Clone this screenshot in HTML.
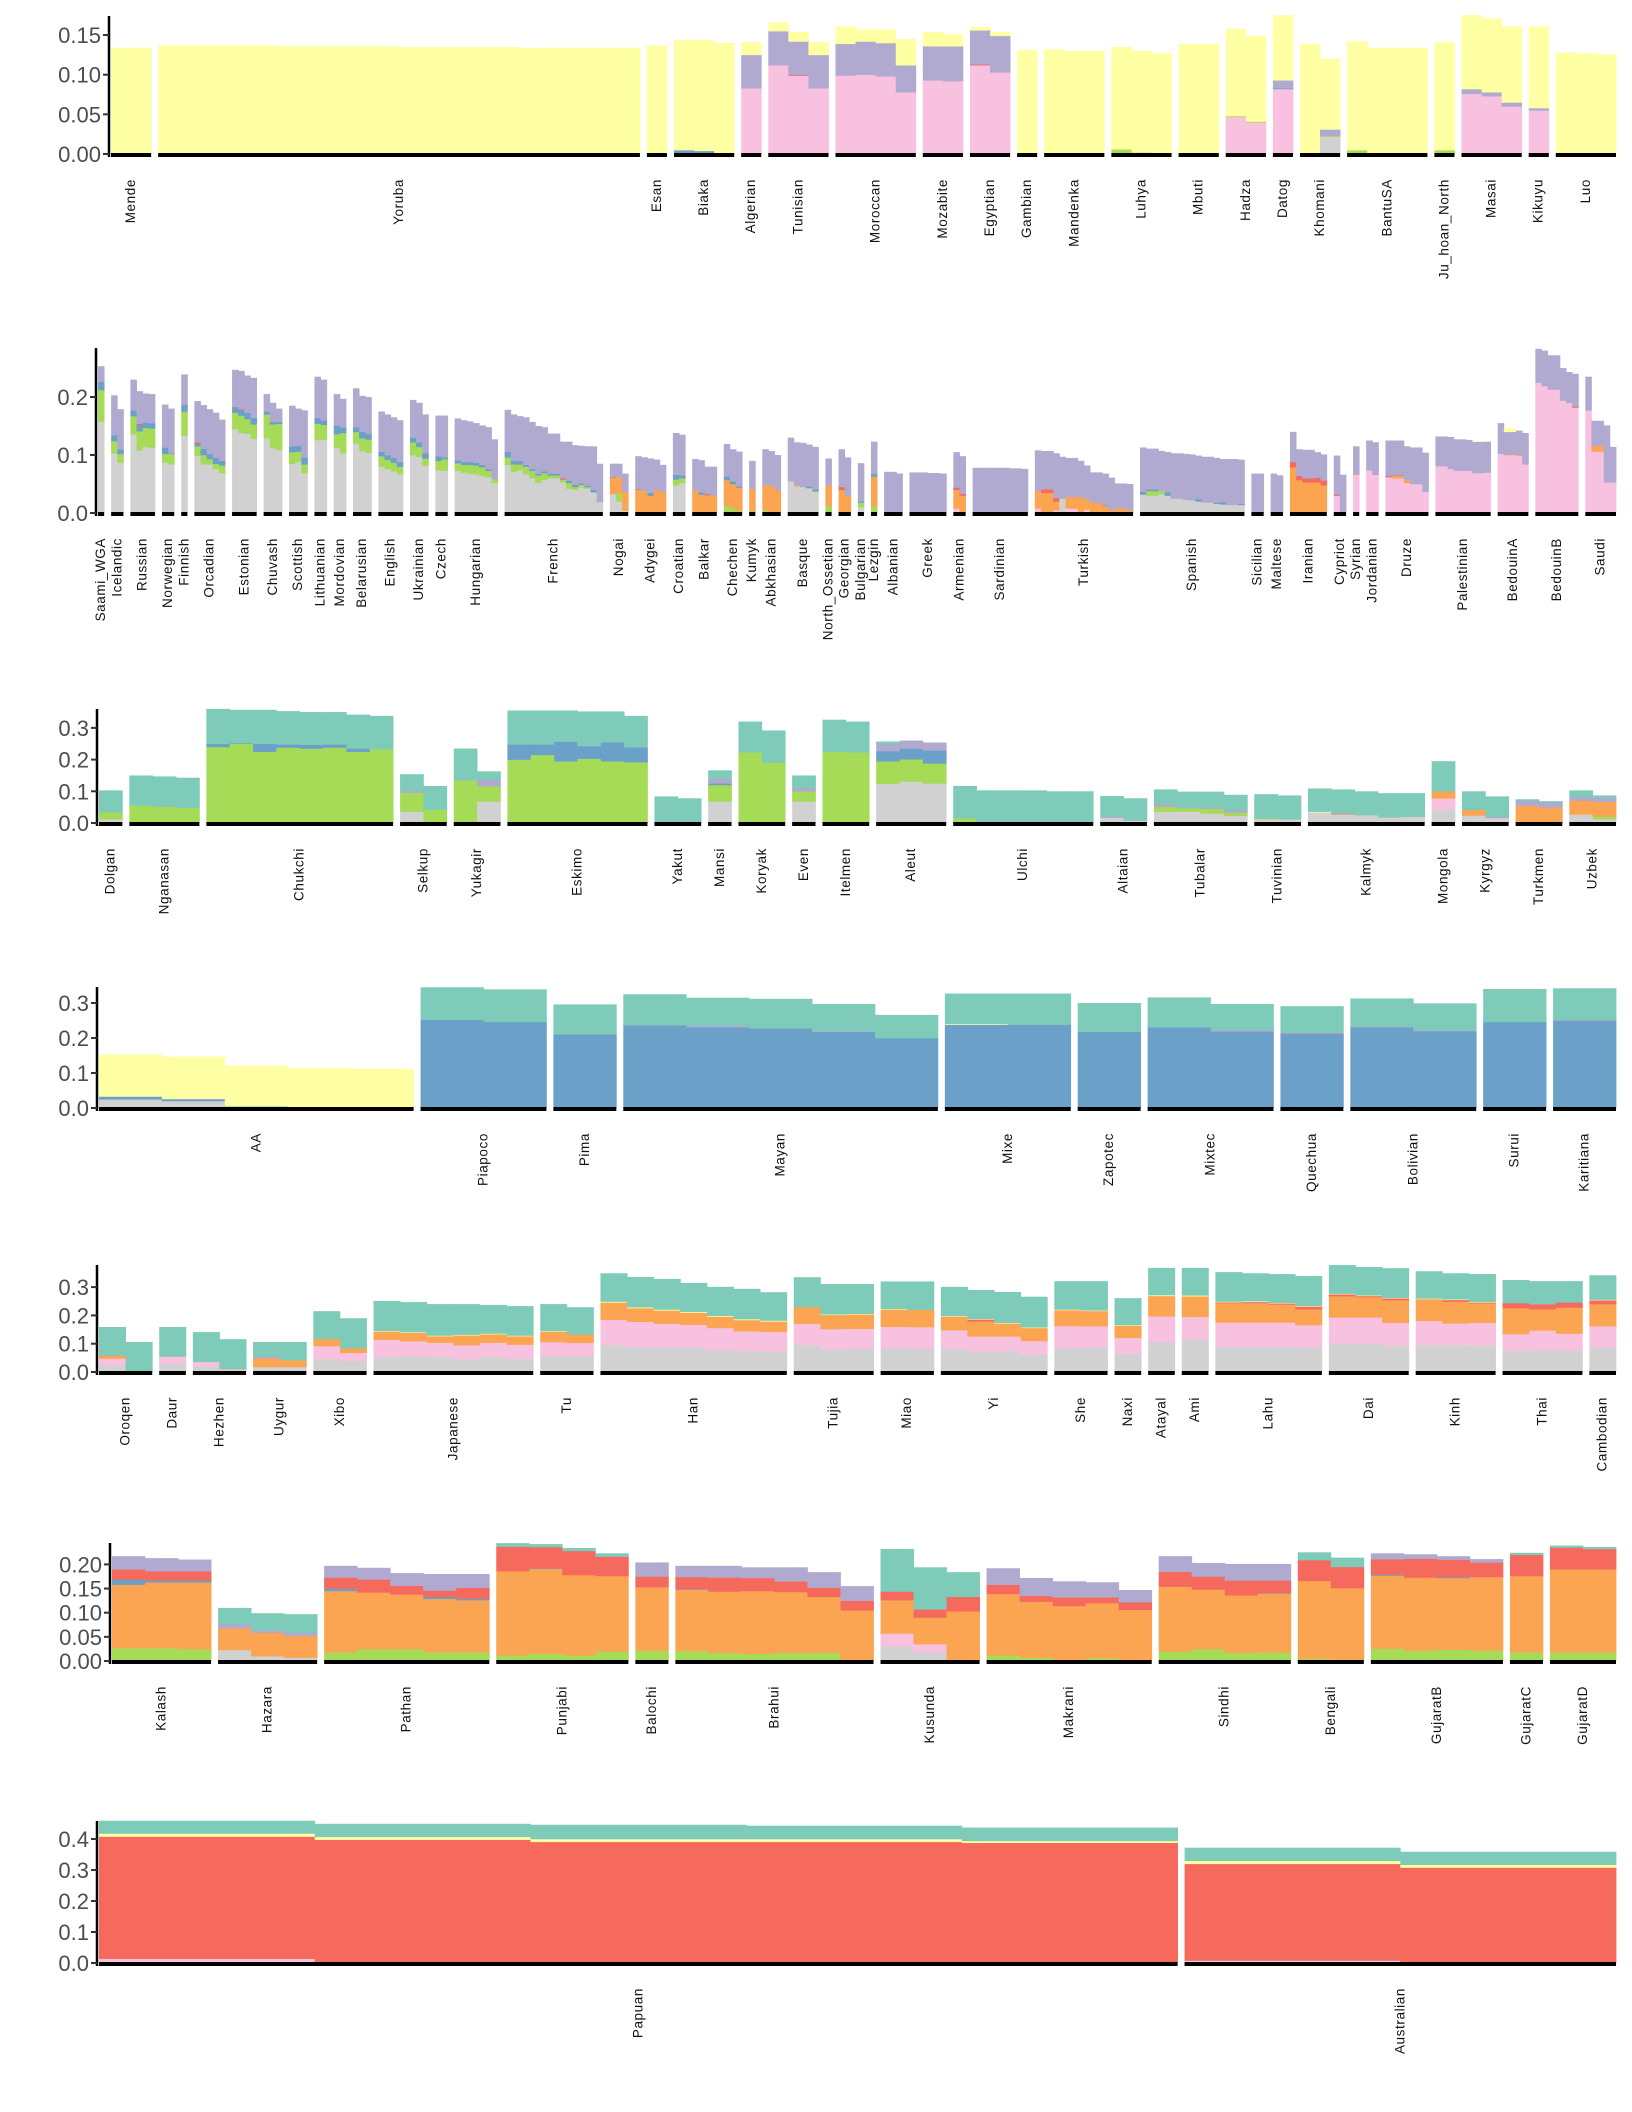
<!DOCTYPE html>
<html><head><meta charset="utf-8"><style>
html,body{margin:0;padding:0;background:#fff;}
svg{display:block;font-family:"Liberation Sans",sans-serif;}
</style></head><body>
<svg id="chart" width="1632" height="2112" viewBox="0 0 1632 2112" xmlns="http://www.w3.org/2000/svg"></svg>
<script>
// ---------------- DATA ----------------
const p1Names=["Mende","Yoruba","Esan","Biaka","Algerian","Tunisian","Moroccan","Mozabite","Egyptian","Gambian","Mandenka","Luhya","Mbuti","Hadza","Datog","Khomani","BantuSA","Ju_hoan_North","Masai","Kikuyu","Luo"];
const p1Counts=[2,24,1,3,1,3,4,2,2,1,3,3,2,2,1,2,4,1,3,1,3];
const p1Bars=[
[{y:.134}],
[{y:.137},{y:.136},{y:.135},{y:.134}],
[{y:.137}],
[{b:.005,y:.139},{b:.004,y:.140},{y:.140}],
[{k:.083,u:.042,y:.016}],
[{k:.112,u:.043,y:.011},{k:.099,r:.001,u:.042,y:.012},{k:.083,u:.042,y:.016}],
[{k:.099,u:.040,y:.022},{k:.100,u:.042,y:.015},{k:.098,u:.042,y:.017},{k:.078,u:.034,y:.033}],
[{k:.093,u:.043,y:.018},{k:.092,u:.044,y:.015}],
[{k:.112,r:.001,u:.043,y:.004},{k:.103,u:.046,y:.005}],
[{y:.131}],
[{y:.132},{y:.130},{y:.130}],
[{n:.006,y:.129},{n:.002,y:.128},{y:.127}],
[{y:.139},{y:.139}],
[{k:.047,n:.001,y:.110},{k:.040,n:.001,y:.108}],
[{k:.082,b:.001,u:.010,y:.082}],
[{y:.139},{g:.022,n:.001,u:.008,y:.089}],
[{n:.005,y:.137},{y:.134},{y:.134},{y:.134}],
[{n:.005,y:.136}],
[{k:.076,u:.006,y:.093},{k:.073,u:.005,y:.093},{k:.060,u:.005,y:.096}],
[{k:.055,u:.003,y:.103}],
[{y:.128},{y:.127},{y:.126}]
];
const p1Ticks=[0,0.05,0.10,0.15];

const p2Names=["Saami_WGA","Icelandic","Russian","Norwegian","Finnish","Orcadian","Estonian","Chuvash","Scottish","Lithuanian","Mordovian","Belarusian","English","Ukrainian","Czech","Hungarian","French","Nogai","Adygei","Croatian","Balkar","Chechen","Kumyk","Abkhasian","Basque","North_Ossetian","Georgian","Bulgarian","Lezgin","Albanian","Greek","Armenian","Sardinian","Turkish","Spanish","Sicilian","Maltese","Iranian","Cypriot","Syrian","Jordanian","Druze","Palestinian","BedouinA","BedouinB","Saudi"];
const p2Counts=[1,2,4,2,1,5,4,3,3,2,2,3,4,3,2,7,16,3,5,2,4,3,1,3,5,1,2,1,1,3,6,2,9,16,17,2,2,6,2,1,2,7,9,5,7,5];
const p2Bars=[
[{g:.158,n:.054,b:.014,u:.027}],
[{g:.103,n:.021,b:.010,u:.069},{g:.087,n:.015,b:.008,u:.069}],
[{g:.136,n:.031,b:.010,u:.053},{g:.108,n:.033,b:.011,r:.002,u:.056},{g:.114,n:.033,b:.009,u:.050},{g:.113,n:.033,b:.009,u:.050}],
[{g:.087,n:.015,b:.011,u:.074},{g:.084,n:.018,b:.001,u:.077}],
[{g:.134,n:.041,b:.012,u:.052}],
[{g:.099,n:.016,b:.005,r:.002,u:.071},{g:.084,n:.016,b:.011,u:.075},{g:.084,n:.009,b:.009,u:.077},{g:.076,n:.009,b:.010,u:.078},{g:.069,n:.013,b:.008,u:.071}],
[{g:.145,n:.028,b:.010,u:.064},{g:.138,n:.030,b:.010,r:.001,u:.066},{g:.137,n:.025,b:.011,u:.064},{g:.128,n:.025,b:.011,u:.069}],
[{g:.129,n:.041,b:.005,u:.030},{g:.112,n:.041,b:.004,u:.033},{g:.109,n:.045,b:.003,u:.023}],
[{g:.085,n:.020,b:.010,u:.070},{g:.088,n:.018,b:.010,u:.064},{g:.069,n:.015,b:.012,u:.081}],
[{g:.126,n:.028,b:.010,u:.071},{g:.126,n:.026,b:.008,u:.070}],
[{g:.113,n:.023,b:.015,u:.054},{g:.103,n:.035,b:.010,u:.049}],
[{g:.120,n:.020,b:.008,u:.067},{g:.107,n:.022,b:.011,u:.062},{g:.104,n:.023,b:.010,u:.063}],
[{g:.080,n:.018,b:.008,u:.069},{g:.076,n:.016,b:.008,u:.070},{g:.072,n:.015,b:.008,u:.070},{g:.067,n:.013,b:.008,u:.072}],
[{g:.100,n:.022,b:.008,u:.065},{g:.097,n:.017,b:.008,u:.068},{g:.082,n:.012,b:.009,u:.067}],
[{g:.074,n:.016,b:.008,u:.070},{g:.073,n:.020,b:.003,u:.072}],
[{g:.073,n:.013,b:.005,u:.072},{g:.070,n:.013,b:.005,u:.072},{g:.068,n:.015,b:.005,u:.070},{g:.067,n:.015,b:.005,u:.068},{g:.064,n:.015,b:.004,u:.068},{g:.062,n:.010,b:.003,o:.001,u:.072},{g:.052,n:.007,u:.068}],
[{g:.083,n:.013,b:.010,u:.072},{g:.071,n:.013,b:.006,u:.080},{g:.074,n:.010,b:.006,u:.077},{g:.067,n:.013,b:.003,u:.082},{g:.060,n:.013,b:.003,u:.081},{g:.052,n:.013,b:.003,u:.082},{g:.057,n:.012,b:.003,u:.076},{g:.060,n:.005,b:.003,u:.069},{g:.053,n:.005,r:.002,u:.063},{g:.042,n:.010,b:.004,u:.067},{g:.040,n:.005,b:.004,u:.068},{g:.044,n:.005,b:.002,u:.065},{g:.042,n:.003,b:.002,u:.068},{g:.036,b:.004,u:.075},{g:.019,u:.066}],
[{g:.033,o:.028,r:.001,u:.023},{g:.020,n:.014,o:.028,u:.023},{g:.004,o:.033,u:.031}],
[{o:.040,r:.001,u:.057},{o:.038,u:.058},{o:.030,b:.005,u:.059},{o:.040,u:.052},{o:.037,u:.046}],
[{g:.048,n:.010,b:.008,u:.072},{g:.052,n:.008,b:.005,u:.070}],
[{o:.040,u:.053},{o:.032,b:.004,u:.055},{o:.031,r:.002,u:.047},{o:.030,u:.050}],
[{n:.012,o:.045,b:.006,u:.056},{n:.008,o:.042,b:.005,u:.055},{n:.004,o:.040,b:.002,u:.060}],
[{n:.004,o:.038,u:.048}],
[{n:.005,o:.043,u:.062},{o:.048,u:.059},{o:.040,u:.060}],
[{g:.055,u:.075},{g:.046,o:.002,u:.074},{g:.045,u:.076},{g:.043,b:.003,u:.072},{g:.036,n:.002,b:.003,u:.073}],
[{n:.012,o:.036,u:.046}],
[{o:.040,r:.005,u:.065},{o:.030,u:.066}],
[{g:.010,n:.008,b:.002,u:.066}],
[{n:.011,o:.052,b:.005,u:.055}],
[{u:.071},{u:.068}],
[{u:.070},{u:.070},{u:.069},{u:.068}],
[{k:.008,o:.032,r:.004,u:.061},{o:.030,r:.003,u:.065}],
[{u:.078},{u:.078},{u:.078},{u:.078},{u:.077},{u:.076}],
[{k:.008,o:.030,u:.070},{o:.035,r:.006,u:.066},{k:.005,o:.015,r:.006,u:.077},{g:.025,u:.072},{k:.008,o:.020,u:.067},{o:.028,u:.062},{k:.006,o:.018,u:.058},{o:.018,u:.052},{o:.012,b:.001,u:.055},{o:.005,u:.056},{o:.008,u:.043},{o:.005,u:.045}],
[{g:.032,b:.005,u:.076},{g:.030,n:.008,b:.003,u:.070},{g:.033,n:.006,u:.068},{g:.030,b:.006,u:.069},{g:.025,u:.078},{g:.023,u:.079},{g:.022,u:.079},{g:.020,b:.004,u:.075},{g:.018,u:.079},{g:.016,b:.002,u:.077},{g:.015,b:.004,u:.074},{g:.014,u:.079},{g:.014,b:.002,u:.076}],
[{u:.068},{u:.068}],
[{u:.068},{u:.065}],
[{o:.079,r:.009,u:.052},{o:.057,r:.007,u:.046},{o:.053,r:.007,u:.049},{o:.053,r:.008,u:.044},{o:.048,r:.008,u:.045}],
[{k:.030,r:.002,u:.067},{u:.066}],
[{k:.066,o:.001,u:.048}],
[{k:.074,u:.051},{k:.066,u:.056}],
[{k:.062,r:.002,u:.061},{k:.060,o:.005,b:.001,u:.059},{k:.052,o:.005,u:.058},{k:.050,u:.063},{k:.037,u:.067}],
[{k:.081,u:.051},{k:.076,u:.055},{k:.073,u:.054},{k:.073,u:.053},{k:.069,u:.054,y:.001},{k:.070,u:.053}],
[{k:.102,u:.053},{k:.100,o:.001,u:.039,y:.006},{k:.099,o:.001,u:.042},{k:.084,u:.054}],
[{k:.225,u:.058},{k:.219,u:.061},{k:.213,u:.059},{k:.194,u:.056},{k:.190,u:.053},{k:.182,r:.002,u:.056}],
[{k:.177,u:.058},{k:.106,o:.010,u:.043},{k:.053,u:.098},{k:.053,u:.061}]
];
const p2Ticks=[0,0.1,0.2];

const p3Names=["Dolgan","Nganasan","Chukchi","Selkup","Yukagir","Eskimo","Yakut","Mansi","Koryak","Even","Itelmen","Aleut","Ulchi","Altaian","Tubalar","Tuvinian","Kalmyk","Mongola","Kyrgyz","Turkmen","Uzbek"];
const p3Counts=[1,3,8,2,2,6,2,1,2,1,2,3,6,2,4,2,5,1,2,2,2];
const p3Bars=[
[{g:.012,n:.022,t:.069}],
[{n:.055,t:.095},{n:.052,t:.095},{n:.048,t:.095}],
[{n:.240,b:.010,t:.110},{n:.250,b:.002,t:.105},{n:.225,b:.025,t:.107},{n:.238,b:.010,t:.105},{n:.235,b:.012,t:.103},{n:.238,b:.010,t:.102},{n:.225,b:.010,t:.107},{n:.233,t:.105}],
[{g:.036,n:.060,u:.006,t:.052},{n:.042,t:.075}],
[{n:.135,t:.100},{g:.068,n:.048,u:.020,t:.027}],
[{n:.200,b:.048,t:.107},{n:.215,b:.033,t:.107},{n:.195,b:.062,t:.098},{n:.203,b:.040,t:.109},{n:.195,b:.060,t:.097},{n:.192,b:.047,t:.099}],
[{t:.084},{t:.078}],
[{g:.068,n:.052,b:.005,u:.014,t:.027}],
[{n:.223,t:.097},{n:.191,t:.101}],
[{g:.068,n:.032,u:.011,t:.039}],
[{n:.225,t:.101},{n:.223,t:.097}],
[{g:.124,n:.071,b:.032,u:.023,t:.007},{g:.131,n:.070,b:.034,u:.025},{g:.125,n:.063,b:.041,u:.025}],
[{n:.015,t:.102},{t:.103},{t:.103},{t:.103},{t:.100},{t:.100}],
[{g:.017,u:.004,t:.064},{g:.008,t:.070}],
[{g:.036,n:.016,u:.008,t:.046},{g:.036,n:.011,u:.003,t:.049},{g:.030,n:.015,u:.005,t:.049},{g:.023,n:.010,u:.008,t:.048}],
[{g:.012,n:.003,t:.076},{g:.012,t:.075}],
[{g:.034,y:.002,t:.073},{g:.028,r:.002,t:.076},{g:.025,t:.075},{g:.018,t:.076},{g:.020,t:.074}],
[{g:.043,k:.035,o:.022,t:.095}],
[{g:.024,o:.018,t:.058},{g:.016,u:.004,t:.064}],
[{o:.055,u:.016,t:.004},{o:.049,u:.016,t:.004}],
[{g:.027,o:.044,u:.011,t:.021},{g:.012,n:.008,o:.047,u:.012,t:.008}]
];
const p3Ticks=[0,0.1,0.2,0.3];

const p4Names=["AA","Piapoco","Pima","Mayan","Mixe","Zapotec","Mixtec","Quechua","Bolivian","Surui","Karitiana"];
const p4Counts=[5,2,1,5,2,1,2,1,2,1,1];
const p4Bars=[
[{g:.025,b:.008,y:.120},{g:.020,b:.006,y:.121},{b:.005,y:.116},{y:.115},{b:.003,y:.109}],
[{b:.252,t:.093},{b:.246,t:.093}],
[{b:.211,t:.085}],
[{b:.237,t:.088},{b:.231,u:.005,t:.079},{b:.228,t:.084},{b:.218,u:.002,t:.077},{b:.200,t:.066}],
[{b:.238,y:.002,t:.087},{b:.238,u:.001,t:.088}],
[{b:.218,t:.082}],
[{b:.231,t:.085},{b:.219,u:.004,t:.074}],
[{b:.213,u:.004,t:.074}],
[{b:.231,u:.002,t:.080},{b:.220,u:.002,t:.077}],
[{b:.246,t:.094}],
[{b:.250,u:.002,t:.090}]
];
const p4Ticks=[0,0.1,0.2,0.3];

const p5Names=["Oroqen","Daur","Hezhen","Uygur","Xibo","Japanese","Tu","Han","Tujia","Miao","Yi","She","Naxi","Atayal","Ami","Lahu","Dai","Kinh","Thai","Cambodian"];
const p5Counts=[2,1,2,2,2,6,2,7,3,2,4,2,1,1,1,4,3,3,3,1];
const p5Bars=[
[{g:.025,k:.023,o:.011,t:.100},{r:.003,t:.103}],
[{g:.030,k:.025,t:.104}],
[{g:.021,k:.015,t:.105},{g:.004,k:.006,t:.106}],
[{g:.018,o:.031,u:.006,t:.051},{g:.018,o:.024,t:.064}],
[{g:.047,k:.045,o:.025,t:.098},{g:.040,k:.028,o:.016,t:.106}],
[{g:.054,k:.060,o:.030,y:.002,t:.105},{g:.057,k:.052,o:.030,y:.002,t:.106},{g:.054,k:.050,o:.023,y:.002,t:.111},{g:.045,k:.050,o:.035,y:.002,t:.108},{g:.054,k:.050,o:.030,y:.002,t:.101},{g:.047,k:.050,o:.030,y:.002,t:.104}],
[{g:.057,k:.049,o:.037,y:.002,t:.095},{g:.057,k:.046,o:.030,t:.096}],
[{g:.096,k:.089,o:.061,y:.003,t:.100},{g:.089,k:.089,o:.048,y:.003,t:.107},{g:.087,k:.084,o:.047,y:.003,t:.108},{g:.087,k:.080,o:.043,y:.003,t:.102},{g:.078,k:.078,o:.040,y:.003,t:.102},{g:.075,k:.069,o:.040,y:.003,t:.107},{g:.074,k:.068,o:.037,y:.003,t:.100}],
[{g:.096,k:.075,o:.059,t:.105},{g:.081,k:.071,o:.050,y:.002,t:.107},{g:.083,k:.070,o:.051,y:.002,t:.105}],
[{g:.086,k:.074,o:.061,y:.002,t:.097},{g:.083,k:.076,o:.061,t:.100}],
[{g:.082,k:.066,o:.048,y:.002,t:.103},{g:.074,k:.052,o:.053,r:.007,y:.002,t:.102},{g:.074,k:.052,o:.046,y:.002,t:.109},{g:.062,k:.048,o:.046,y:.002,t:.108}],
[{g:.086,k:.077,o:.056,y:.002,t:.100},{g:.088,k:.074,o:.054,y:.002,t:.103}],
[{g:.065,k:.056,o:.043,y:.002,t:.095}],
[{g:.107,k:.090,o:.072,y:.003,t:.096}],
[{g:.115,k:.080,o:.073,y:.003,t:.097}],
[{g:.090,k:.085,o:.069,r:.003,y:.002,t:.104},{g:.090,k:.085,o:.069,r:.003,u:.002,y:.002,t:.098},{g:.090,k:.085,o:.064,r:.004,y:.002,t:.101},{g:.087,k:.079,o:.056,r:.010,y:.002,t:.105}],
[{g:.101,k:.092,o:.075,r:.007,y:.002,t:.101},{g:.101,k:.092,o:.072,r:.004,y:.002,t:.100},{g:.094,k:.080,o:.080,r:.007,y:.002,t:.104}],
[{g:.096,k:.085,o:.077,y:.002,t:.096},{g:.096,k:.076,o:.077,r:.006,y:.002,t:.092},{g:.094,k:.080,o:.069,r:.003,y:.002,t:.098}],
[{g:.075,k:.059,o:.092,r:.018,t:.081},{g:.076,k:.071,o:.075,r:.018,t:.081},{g:.076,k:.060,o:.092,r:.018,t:.075}],
[{g:.088,k:.074,o:.078,r:.014,y:.002,t:.086}]
];
const p5Ticks=[0,0.1,0.2,0.3];

const p6Names=["Kalash","Hazara","Pathan","Punjabi","Balochi","Brahui","Kusunda","Makrani","Sindhi","Bengali","GujaratB","GujaratC","GujaratD"];
const p6Counts=[3,3,5,4,1,6,3,5,4,2,4,1,2];
const p6Bars=[
[{n:.027,o:.131,b:.011,r:.021,u:.027},{n:.027,o:.136,b:.004,r:.019,u:.027},{n:.025,o:.138,b:.004,r:.019,u:.024}],
[{g:.023,o:.045,u:.009,t:.033},{g:.010,o:.049,u:.005,t:.035},{g:.007,o:.045,u:.007,t:.038}],
[{n:.018,o:.127,b:.005,r:.023,u:.024},{n:.025,o:.117,r:.027,u:.024},{n:.025,o:.113,r:.018,u:.026},{n:.018,o:.111,b:.004,r:.013,u:.034},{n:.018,o:.108,b:.003,r:.023,u:.028}],
[{n:.012,o:.174,r:.051,t:.007},{n:.016,o:.175,b:.001,r:.044,t:.006},{n:.012,o:.166,r:.050,t:.006},{n:.020,o:.156,r:.040,u:.002,t:.005}],
[{n:.022,o:.131,r:.022,u:.029}],
[{n:.021,o:.127,b:.001,r:.025,u:.023},{n:.017,o:.127,r:.029,u:.024},{n:.015,o:.130,r:.027,u:.022},{n:.017,o:.126,r:.022,u:.029},{n:.017,o:.116,r:.019,u:.032},{o:.105,r:.020,u:.030}],
[{g:.030,k:.027,o:.069,r:.018,t:.088},{g:.018,k:.017,o:.055,r:.017,t:.087},{o:.103,r:.030,t:.051}],
[{n:.012,o:.127,r:.019,u:.034},{n:.007,o:.116,r:.012,u:.037},{n:.002,o:.112,r:.018,u:.033},{n:.006,o:.114,r:.012,u:.031},{n:.001,o:.105,r:.016,u:.025}],
[{n:.020,o:.134,r:.031,u:.032},{n:.025,o:.123,r:.027,u:.028},{n:.017,o:.119,r:.031,u:.034},{n:.018,o:.122,b:.001,r:.026,u:.034}],
[{n:.005,o:.161,r:.043,t:.016},{n:.003,o:.148,r:.044,t:.019}],
[{n:.026,o:.151,b:.002,r:.032,u:.012},{n:.022,o:.151,r:.039,u:.009},{n:.024,o:.148,b:.002,r:.036,u:.007},{n:.022,o:.152,r:.030,u:.007}],
[{n:.018,o:.158,r:.044,t:.004}],
[{n:.018,o:.172,r:.045,t:.004},{n:.018,o:.172,r:.042,t:.004}]
];
const p6Ticks=[0,0.05,0.10,0.15,0.20];

const p7Names=["Papuan","Australian"];
const p7Counts=[5,2];
const p7Bars=[
[{k:.014,r:.394,y:.010,t:.041},{r:.398,y:.009,t:.042},{r:.391,y:.009,t:.046},{k:.002,r:.389,y:.009,t:.043},{r:.388,y:.006,t:.043}],
[{k:.008,r:.312,y:.010,t:.042},{r:.308,y:.009,t:.042}]
];
const p7Ticks=[0,0.1,0.2,0.3,0.4];

// ---------------- STYLE / LAYOUT ----------------
const COLS={g:'#d1d1d1',k:'#f8c1df',n:'#a6db58',b:'#6ba1c8',o:'#fba552',r:'#f66a5e',u:'#b0a9d0',y:'#ffffa3',t:'#7ecbba'};
const ORDER=['g','k','n','o','b','r','u','y','t'];
const PANELS=[
 {id:'africa',names:p1Names,counts:p1Counts,bars:p1Bars,ticks:p1Ticks,dec:2,zero:154,scale:793,top:16,axisX:109},
 {id:'europe',names:p2Names,counts:p2Counts,bars:p2Bars,ticks:p2Ticks,dec:1,zero:513,scale:580,top:348,axisX:96},
 {id:'siberia',names:p3Names,counts:p3Counts,bars:p3Bars,ticks:p3Ticks,dec:1,zero:823,scale:317,top:709,axisX:97},
 {id:'america',names:p4Names,counts:p4Counts,bars:p4Bars,ticks:p4Ticks,dec:1,zero:1108,scale:350,top:987,axisX:97},
 {id:'eastasia',names:p5Names,counts:p5Counts,bars:p5Bars,ticks:p5Ticks,dec:1,zero:1372,scale:283,top:1265,axisX:97},
 {id:'southasia',names:p6Names,counts:p6Counts,bars:p6Bars,ticks:p6Ticks,dec:2,zero:1661,scale:483,top:1543,axisX:110},
 {id:'oceania',names:p7Names,counts:p7Counts,bars:p7Bars,ticks:p7Ticks,dec:1,zero:1963,scale:310,top:1821,axisX:97}
];
const RIGHT=1616, GAP=7;
const NS='http://www.w3.org/2000/svg';
const svg=document.getElementById('chart');
function mk(tag,attrs,parent){const e=document.createElementNS(NS,tag);for(const k in attrs)e.setAttribute(k,attrs[k]);(parent||svg).appendChild(e);return e;}

PANELS.forEach(P=>{
  const g=mk('g',{});
  
  
  const yOf=v=>P.zero-v*P.scale;
  const x0=P.axisX+2;
  const N=P.counts.reduce((a,b)=>a+b,0);
  const G=P.names.length;
  const unit=(RIGHT-x0-GAP*(G-1))/N;
  let cx=x0;
  P.names.forEach((name,gi)=>{
    const n=P.counts[gi], bars=P.bars[gi], m=bars.length;
    const gg=mk('g',{},g);
    
    
    bars.forEach((bar,bi)=>{
      const xa=cx+Math.round(bi*n/m)*unit, xb=cx+Math.round((bi+1)*n/m)*unit;
      let cum=0;
      ORDER.forEach(c=>{
        const v=bar[c]||0; if(v<=0)return;
        const y1=yOf(cum), y2=yOf(cum+v);
        const r=mk('rect',{x:xa.toFixed(2),y:y2.toFixed(2),width:(xb-xa+0.4).toFixed(2),height:(y1-y2+0.3).toFixed(2),fill:COLS[c]},gg);
        
        
        cum+=v;
      });
    });
    const wid=n*unit;
    const base=mk('rect',{x:cx.toFixed(2),y:P.zero-1,width:wid.toFixed(2),height:4,fill:'#000'},gg);
    
    
    const lx=cx+wid/2+4, ly=P.zero+25;
    const t=mk('text',{x:lx.toFixed(1),y:ly,transform:`rotate(-90 ${lx.toFixed(1)} ${ly})`,'text-anchor':'end','font-size':'13.5','letter-spacing':'0.6',fill:'#111'},gg);
    t.textContent=name;
    
    
    cx+=wid+GAP;
  });
  const ax=mk('line',{x1:P.axisX,x2:P.axisX,y1:P.top,y2:P.zero+3,stroke:'#000','stroke-width':2.5},g);
  
  
  P.ticks.forEach(v=>{
    const y=yOf(v);
    const tk=mk('line',{x1:P.axisX-6,x2:P.axisX,y1:y,y2:y,stroke:'#333','stroke-width':2},g);
    
    
    const tl=mk('text',{x:P.axisX-8,y:y+8,'text-anchor':'end','font-size':'22',fill:'#4d4d4d'},g);
    tl.textContent=v.toFixed(P.dec);
    
    
  });
});
</script>
</body></html>
